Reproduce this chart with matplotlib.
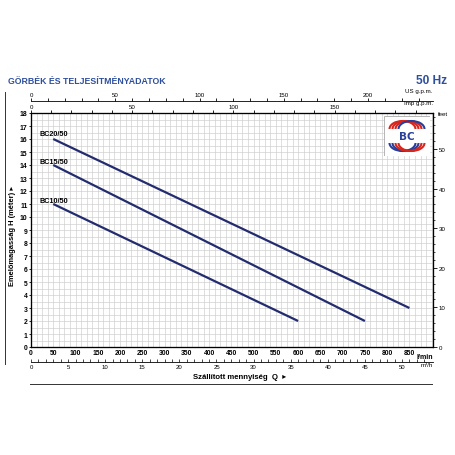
import numpy as np
import matplotlib.pyplot as plt
from matplotlib.patches import Rectangle, Arc

# pump curves, Q in l/min, H in m
bc20_q = [50, 450, 850]
bc20_h = [16, 9.5, 3]
bc15_q = [50, 400, 750]
bc15_h = [14, 8, 2]
bc10_q = [50, 325, 600]
bc10_h = [11, 6.5, 2]
curve_names = ['BC20/50', 'BC15/50', 'BC10/50']
name_pos = [(20, 16.45), (20, 14.25), (20, 11.3)]

q_ticks = list(range(0, 900, 50))
h_ticks = list(range(0, 19))
feet_ticks = [0, 10, 20, 30, 40, 50]
us_ticks = [0, 50, 100, 150, 200]
imp_ticks = [0, 50, 100, 150]
m3h_ticks = [0, 5, 10, 15, 20, 25, 30, 35, 40, 45, 50]

title = 'GÖRBÉK ÉS TELJESÍTMÉNYADATOK'
freq = '50 Hz'
ylabel = 'Emelőmagasság H (méter) ▸'
xlabel = 'Szállított mennyiség  Q  ▸'

FONT = ['Liberation Sans Narrow', 'Liberation Sans', 'DejaVu Sans']
plt.rcParams['font.family'] = FONT
BLUE = '#2d4f9c'
NAVY = '#232c6e'
QMAX = 903
HMAX = 18

fig = plt.figure(figsize=(4.56, 4.56), dpi=100)
L, R, B, T = 31 / 456, 433 / 456, 1 - 348 / 456, 1 - 114 / 456
ax = fig.add_axes([L, B, R - L, T - B])
ax.set_xlim(0, QMAX)
ax.set_ylim(0, HMAX)

# fine grid
ax.set_xticks(np.arange(0, QMAX, 12.5), minor=True)
ax.set_yticks(np.arange(0, HMAX, 0.5), minor=True)
ax.grid(which='both', color='#cdcdcd', linewidth=0.45)
ax.set_axisbelow(True)
ax.tick_params(which='minor', length=0)

ax.set_xticks(q_ticks)
ax.set_xticklabels([str(v) for v in q_ticks], fontsize=4.9, fontweight='bold')
ax.set_yticks(h_ticks)
ax.set_yticklabels([str(v) for v in h_ticks], fontsize=4.9, fontweight='bold')
ax.tick_params(axis='x', which='major', length=0, pad=1.5)
ax.tick_params(axis='y', which='major', length=1.5, pad=1, width=0.6)
for s in ax.spines.values():
    s.set_linewidth(0.8)

for q, h in [(bc20_q, bc20_h), (bc15_q, bc15_h), (bc10_q, bc10_h)]:
    ax.plot(q, h, color=NAVY, linewidth=1.6, solid_capstyle='butt')
for name, (qx, hy) in zip(curve_names, name_pos):
    ax.text(qx, hy, name, fontsize=5.2, fontweight='bold', va='center', ha='left')

ax.text(1.0, -0.025, 'l/min', transform=ax.transAxes, fontsize=5,
        fontweight='bold', ha='right', va='top')

# right axis in feet
axf = ax.twinx()
axf.set_ylim(0, HMAX * 3.2808)
axf.set_yticks(feet_ticks)
axf.set_yticklabels([str(v) for v in feet_ticks], fontsize=4.4)
axf.set_yticks(np.arange(0, 59, 2), minor=True)
axf.tick_params(axis='y', which='major', length=3, width=0.6, pad=1)
axf.tick_params(axis='y', which='minor', length=1.5, width=0.5)
axf.text(1.012, 1.0, 'feet', transform=ax.transAxes, fontsize=4.4, va='center')

# imperial gpm on top spine
axi = ax.twiny()
axi.set_xlim(0, QMAX / 4.546)
axi.set_xticks(imp_ticks)
axi.set_xticklabels([str(v) for v in imp_ticks], fontsize=4.4)
axi.set_xticks(np.arange(0, 200, 10), minor=True)
axi.tick_params(axis='x', which='both', direction='out', length=2.5, width=0.6, pad=0.5)
axi.text(1.0, 1.035, 'Imp g.p.m.', transform=ax.transAxes, fontsize=4.4,
         ha='right', va='bottom')

# US gpm on separate line above
axu = ax.twiny()
axu.set_xlim(0, QMAX / 3.785)
axu.spines['top'].set_position(('outward', 8.5))
axu.spines['top'].set_linewidth(0.6)
axu.set_xticks(us_ticks)
axu.set_xticklabels([str(v) for v in us_ticks], fontsize=4.4)
axu.set_xticks(np.arange(0, 240, 10), minor=True)
axu.tick_params(axis='x', which='both', direction='out', length=2.5, width=0.6, pad=0.5)
for s in ['left', 'right', 'bottom']:
    axu.spines[s].set_visible(False)
axu.text(1.0, 1.085, 'US g.p.m.', transform=ax.transAxes, fontsize=4.4,
         ha='right', va='bottom')

# m3/h below
axm = ax.twiny()
axm.set_xlim(0, QMAX * 0.06)
axm.xaxis.set_ticks_position('bottom')
axm.xaxis.set_label_position('bottom')
axm.spines['bottom'].set_position(('outward', 11))
axm.spines['bottom'].set_linewidth(0.6)
for s in ['left', 'right', 'top']:
    axm.spines[s].set_visible(False)
axm.set_xticks(m3h_ticks)
axm.set_xticklabels([str(v) for v in m3h_ticks], fontsize=4.3)
axm.set_xticks(np.arange(0, 54, 1), minor=True)
axm.tick_params(axis='x', which='both', direction='in', length=2, width=0.5, pad=1)
axm.text(1.0, -0.062, 'm³/h', transform=ax.transAxes, fontsize=4.4,
         ha='right', va='top')

# titles and labels
fig.text(8 / 456, 1 - 82 / 456, title, fontsize=6.3, fontweight='bold', color=BLUE,
         va='center', ha='left')
fig.text(447 / 456, 1 - 81 / 456, freq, fontsize=8.6, fontweight='bold', color=BLUE,
         va='center', ha='right')
fig.text(13 / 456, 1 - 236 / 456, ylabel, fontsize=5.4, fontweight='bold', rotation=90,
         va='center', ha='center', family=FONT)
fig.text(193 / 456, 1 - 378 / 456, xlabel, fontsize=5.6, fontweight='bold',
         va='center', ha='left', family=FONT)
fig.add_artist(plt.Line2D([5 / 456, 5 / 456], [1 - 93 / 456, 1 - 365 / 456],
                          color='#333333', linewidth=0.7))
fig.add_artist(plt.Line2D([30 / 456, 432 / 456], [1 - 385 / 456, 1 - 385 / 456],
                          color='#333333', linewidth=0.7))

# logo box
lg = fig.add_axes([384 / 456, 1 - 157 / 456, 46 / 456, 40 / 456])
lg.set_xlim(0, 46)
lg.set_ylim(0, 40)
lg.axis('off')
lg.add_patch(Rectangle((0.3, 0.3), 45.4, 39.4, facecolor='white', edgecolor='#aaaaaa', linewidth=0.6))
for dx, c in [(-4.5, '#d9261c'), (-1.5, '#d9261c'), (1.5, '#d9261c'), (4.5, '#2a3f9a')]:
    lg.add_patch(Arc((23 + dx, 27), 26, 16, theta1=0, theta2=180, color=c, linewidth=1.5))
for dx, c in [(-4.5, '#2a3f9a'), (-1.5, '#2a3f9a'), (1.5, '#d9261c'), (4.5, '#d9261c')]:
    lg.add_patch(Arc((23 + dx, 13), 26, 16, theta1=180, theta2=360, color=c, linewidth=1.5))
lg.text(23, 20, 'BC', fontsize=7.5, fontweight='bold', color='#2a3f9a', ha='center', va='center',
        family=['DejaVu Sans'])

fig.savefig('out.png', dpi=100)
